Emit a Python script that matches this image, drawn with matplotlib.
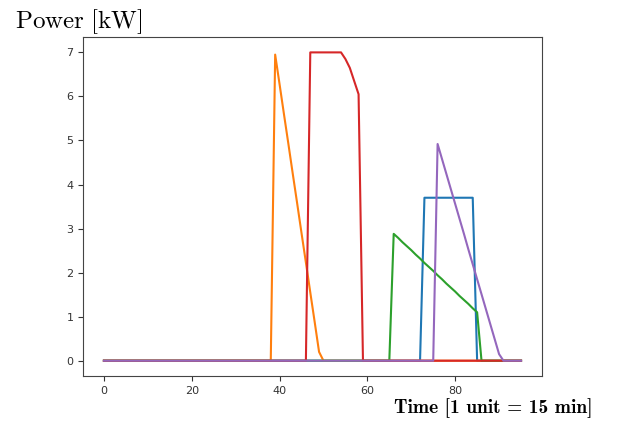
import matplotlib
matplotlib.use("Agg")
import matplotlib.pyplot as plt

plt.rcParams['mathtext.fontset'] = 'cm'

t = list(range(96))

blue = [0.0] * 73 + [3.7] * 12 + [0.0] * 11

orange = ([0.0] * 39 +
          [6.95, 6.28, 5.6, 4.93, 4.25, 3.58, 2.9, 2.23, 1.55, 0.88, 0.2] +
          [0.0] * 46)

green = ([0.0] * 66 +
         [2.88, 2.79, 2.69, 2.60, 2.51, 2.41, 2.32, 2.22, 2.13, 2.04,
          1.94, 1.85, 1.75, 1.66, 1.57, 1.47, 1.38, 1.29, 1.19, 1.10] +
         [0.0] * 10)

red = ([0.0] * 47 + [7.0] * 8 + [6.85, 6.65, 6.35, 6.05] + [0.0] * 37)

purple = ([0.0] * 76 +
          [4.92, 4.58, 4.24, 3.90, 3.56, 3.22, 2.88, 2.53, 2.19, 1.85,
           1.51, 1.17, 0.83, 0.49, 0.15] +
          [0.0] * 5)

series = [blue, orange, green, red, purple]
colors = ['#1f77b4', '#ff7f0e', '#2ca02c', '#d62728', '#9467bd']

fig = plt.figure(figsize=(6.2, 4.25), dpi=100)
ax = fig.add_axes([0.134, 0.115, 0.74, 0.798])
for s, c in zip(series, colors):
    ax.plot(t, s, color=c, linewidth=1.5)

ax.set_xlim(-4.75, 99.75)
ax.set_ylim(-0.35, 7.35)
ax.set_xticks([0, 20, 40, 60, 80])
ax.set_yticks(range(8))
ax.tick_params(labelsize=8, colors='#333333')
for sp in ax.spines.values():
    sp.set_color('#444444')

fig.text(0.024, 0.935, r"$\mathrm{Power\ [kW]}$", fontsize=18, ha='left', va='baseline')
fig.text(0.955, 0.028, "Time [1 unit = 15 min]", fontsize=14, family='cmb10',
         ha='right', va='baseline')

fig.savefig("out.png", dpi=100)
